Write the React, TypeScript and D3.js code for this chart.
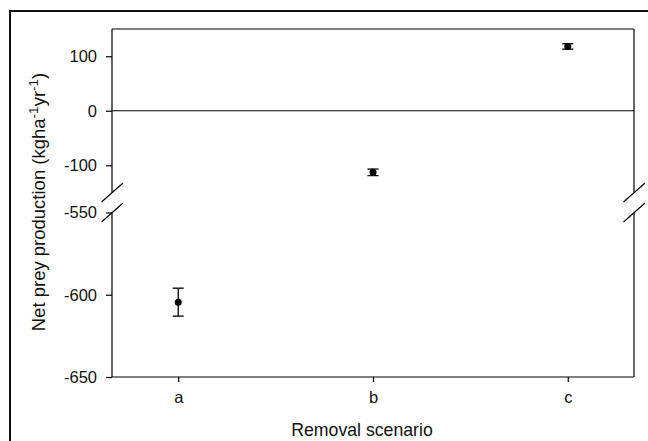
import * as d3 from 'd3';
import React, { useEffect, useRef } from 'react';

// data
const scenarios = ['a', 'b', 'c'];
const meanValues = [-604.5, -113, 118];
const seValues = [8.5, 6, 5];
const upperTicks = [-100, 0, 100];
const lowerTicks = [-650, -600, -550];
const upperDomain = [-150, 150];
const lowerDomain = [-650, -550];

const W = 648;
const H = 441;
const FONT = '"Liberation Sans", Arial, sans-serif';

const App = () => {
  const svgRef = useRef<SVGSVGElement>(null);

  useEffect(() => {
    const svg = d3.select(svgRef.current);
    svg.selectAll('*').remove();

    const left = 112, right = 634, top = 29, bottom = 377;
    const upperBottom = 192.5, lowerTop = 212.5;

    const x = d3.scalePoint<string>().domain(scenarios).range([left, right]).padding(0.34);
    const yUp = d3.scaleLinear().domain(upperDomain).range([upperBottom, top]);
    const yLow = d3.scaleLinear().domain(lowerDomain).range([bottom, lowerTop]);
    const yOf = (v: number) => (v < -300 ? yLow(v) : yUp(v));

    // outer frame (cut off at right/bottom)
    svg.append('rect')
      .attr('x', 10).attr('y', 11)
      .attr('width', 700).attr('height', 500)
      .attr('fill', 'none').attr('stroke', '#111').attr('stroke-width', 2);

    const line = (x1: number, y1: number, x2: number, y2: number) =>
      svg.append('line')
        .attr('x1', x1).attr('y1', y1).attr('x2', x2).attr('y2', y2)
        .attr('stroke', '#000').attr('stroke-width', 1.2);

    // plot frame with broken sides
    line(left, top, right, top);
    line(left, bottom, right, bottom);
    line(left, top, left, upperBottom);
    line(left, lowerTop, left, bottom);
    line(right, top, right, upperBottom);
    line(right, lowerTop, right, bottom);
    line(left, yUp(0), right, yUp(0));

    // break marks
    [left, right].forEach(ax => {
      [upperBottom, lowerTop].forEach(yb => {
        line(ax - 10.5, yb + 9.5, ax + 11, yb - 9.5);
      });
    });

    const styleAxis = (g: any) => {
      g.select('.domain').remove();
      g.selectAll('line').attr('stroke', '#000').attr('stroke-width', 1.2);
      g.selectAll('text')
        .attr('fill', '#111')
        .style('font-family', FONT)
        .style('font-size', '16.5px');
    };

    svg.append('g')
      .attr('transform', `translate(${left},0)`)
      .call(d3.axisLeft(yUp).tickValues(upperTicks).tickSize(6).tickPadding(9).tickFormat(d => String(d)))
      .call(styleAxis);

    svg.append('g')
      .attr('transform', `translate(${left},0)`)
      .call(d3.axisLeft(yLow).tickValues(lowerTicks).tickSize(6).tickPadding(9).tickFormat(d => String(d)))
      .call(styleAxis);

    svg.append('g')
      .attr('transform', `translate(0,${bottom})`)
      .call(d3.axisBottom(x).tickSize(5).tickPadding(9))
      .call(styleAxis);

    // error bars + points
    const pts = svg.append('g');
    scenarios.forEach((s, i) => {
      const cx = x(s) as number;
      const y1 = yOf(meanValues[i] + seValues[i]);
      const y2 = yOf(meanValues[i] - seValues[i]);
      pts.append('line').attr('x1', cx).attr('x2', cx).attr('y1', y1).attr('y2', y2)
        .attr('stroke', '#000').attr('stroke-width', 1.3);
      [y1, y2].forEach(yy => {
        pts.append('line').attr('x1', cx - 5.5).attr('x2', cx + 5.5).attr('y1', yy).attr('y2', yy)
          .attr('stroke', '#000').attr('stroke-width', 1.3);
      });
      pts.append('circle').attr('cx', cx).attr('cy', yOf(meanValues[i])).attr('r', 3.5).attr('fill', '#000');
    });

    // axis titles
    svg.append('text')
      .attr('x', (left + right) / 2 - 11).attr('y', 436)
      .attr('text-anchor', 'middle')
      .attr('fill', '#111')
      .style('font-family', FONT).style('font-size', '17.7px')
      .text('Removal scenario');

    const yt = svg.append('text')
      .attr('transform', `translate(45,202) rotate(-90)`)
      .attr('text-anchor', 'middle')
      .attr('fill', '#111')
      .style('font-family', FONT).style('font-size', '18.5px');
    yt.append('tspan').text('Net prey production (kgha');
    yt.append('tspan').attr('dy', -7).style('font-size', '13.5px').text('-1');
    yt.append('tspan').attr('dy', 7).text('yr');
    yt.append('tspan').attr('dy', -7).style('font-size', '13.5px').text('-1');
    yt.append('tspan').attr('dy', 7).text(')');
  }, []);

  return (
    <svg ref={svgRef} width={W} height={H}
      style={{ position: 'absolute', left: 0, top: 0, background: '#fff' }} />
  );
};

export default App;
